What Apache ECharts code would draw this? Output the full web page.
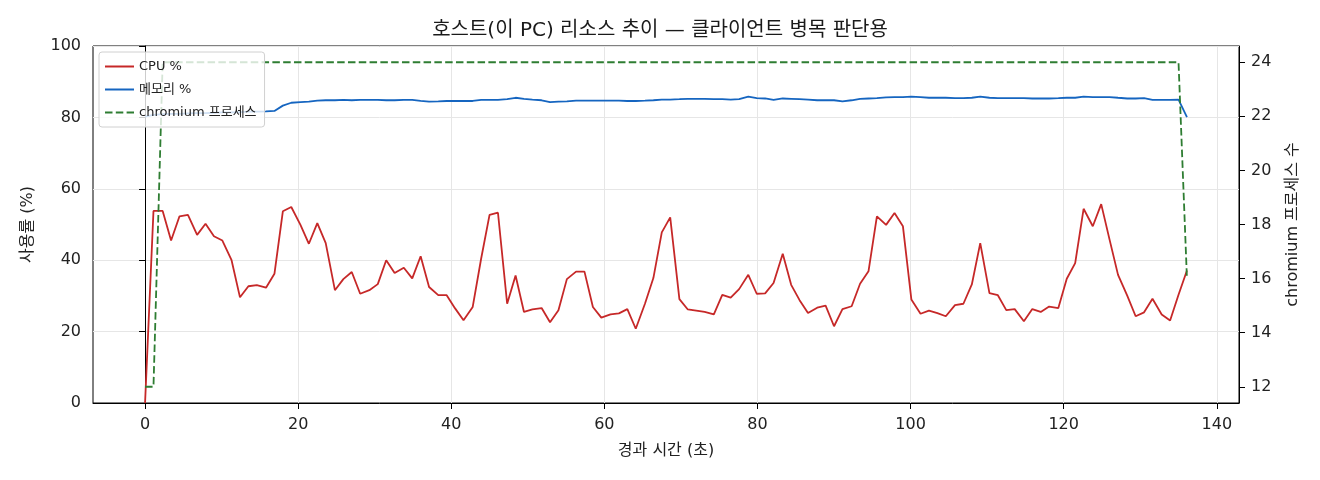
<!DOCTYPE html>
<html>
<head>
<meta charset="utf-8">
<script src="https://cdn.jsdelivr.net/npm/echarts@6/dist/echarts.min.js"></script>
<style>
  html, body { margin: 0; padding: 0; background: #fff; }
  #chart { width: 1320px; height: 480px; }
</style>
</head>
<body>
<div id="chart"></div>
<script>
// elapsed seconds, one sample roughly every 1.125 s
const times = [0, 1.1, 2.3, 3.4, 4.5, 5.6, 6.8, 7.9, 9.0, 10.1, 11.3, 12.4, 13.5, 14.6, 15.8, 16.9, 18.0, 19.1, 20.3, 21.4,
  22.5, 23.6, 24.8, 25.9, 27.0, 28.1, 29.3, 30.4, 31.5, 32.6, 33.8, 34.9, 36.0, 37.1, 38.3, 39.4, 40.5, 41.6, 42.8, 43.9,
  45.0, 46.1, 47.3, 48.4, 49.5, 50.6, 51.8, 52.9, 54.0, 55.1, 56.3, 57.4, 58.5, 59.6, 60.8, 61.9, 63.0, 64.1, 65.3, 66.4,
  67.5, 68.6, 69.8, 70.9, 72.0, 73.1, 74.3, 75.4, 76.5, 77.6, 78.8, 79.9, 81.0, 82.1, 83.3, 84.4, 85.5, 86.6, 87.8, 88.9,
  90.0, 91.1, 92.3, 93.4, 94.5, 95.6, 96.8, 97.9, 99.0, 100.1, 101.3, 102.4, 103.5, 104.6, 105.8, 106.9, 108.0, 109.1, 110.3, 111.4,
  112.5, 113.6, 114.8, 115.9, 117.0, 118.1, 119.3, 120.4, 121.5, 122.6, 123.8, 124.9, 126.0, 127.1, 128.3, 129.4, 130.5, 131.6, 132.8, 133.9,
  135.0, 136.1];

const cpuPct = [0, 53.8, 53.8, 45.5, 52.3, 52.7, 47.1, 50.2, 46.7, 45.5, 40.0, 29.6, 32.7, 33.0, 32.3, 36.2, 53.7, 54.9, 49.9, 44.6,
  50.4, 44.8, 31.6, 34.7, 36.7, 30.6, 31.6, 33.3, 40.0, 36.4, 37.9, 34.9, 41.1, 32.5, 30.2, 30.2, 26.5, 23.2, 26.9, 40.4,
  52.7, 53.3, 27.8, 35.7, 25.5, 26.2, 26.6, 22.6, 26.0, 34.7, 36.8, 36.8, 26.9, 23.9, 24.8, 25.1, 26.3, 20.8, 27.8, 35.0,
  47.8, 52.0, 29.1, 26.2, 25.9, 25.5, 24.8, 30.3, 29.5, 31.9, 35.9, 30.6, 30.7, 33.6, 41.8, 33.1, 28.8, 25.2, 26.7, 27.3,
  21.5, 26.3, 27.1, 33.4, 36.9, 52.3, 49.9, 53.2, 49.5, 29.0, 25.0, 25.9, 25.2, 24.3, 27.4, 27.8, 33.2, 44.8, 30.8, 30.2,
  26.0, 26.3, 22.9, 26.3, 25.5, 27.0, 26.6, 34.8, 39.2, 54.4, 49.5, 55.7, 45.7, 35.9, 30.1, 24.3, 25.4, 29.2, 24.8, 23.1,
  30.3, 37.1];

const memPct = [80.2, 80.7, 80.9, 81.0, 81.0, 81.1, 81.2, 81.2, 81.3, 81.4, 81.4, 81.5, 81.6, 81.6, 81.7, 81.8, 83.3, 84.1, 84.3, 84.4,
  84.7, 84.8, 84.8, 84.9, 84.8, 84.9, 84.9, 84.9, 84.8, 84.8, 84.9, 84.9, 84.6, 84.4, 84.5, 84.6, 84.6, 84.6, 84.6, 84.9,
  84.9, 84.9, 85.1, 85.5, 85.2, 85.0, 84.8, 84.3, 84.4, 84.5, 84.7, 84.7, 84.7, 84.7, 84.7, 84.7, 84.6, 84.6, 84.7, 84.8,
  85.0, 85.0, 85.1, 85.2, 85.2, 85.2, 85.1, 85.1, 85.0, 85.1, 85.8, 85.4, 85.3, 84.9, 85.3, 85.2, 85.1, 85.0, 84.8, 84.8,
  84.8, 84.5, 84.8, 85.2, 85.3, 85.4, 85.6, 85.7, 85.7, 85.8, 85.7, 85.5, 85.5, 85.5, 85.4, 85.4, 85.5, 85.8, 85.5, 85.4,
  85.4, 85.4, 85.4, 85.3, 85.3, 85.3, 85.4, 85.5, 85.5, 85.8, 85.7, 85.7, 85.7, 85.5, 85.3, 85.3, 85.4, 84.9, 84.9, 84.9,
  85.0, 80.1];

const procCount = [12, 12, 24, 24, 24, 24, 24, 24, 24, 24, 24, 24, 24, 24, 24, 24, 24, 24, 24, 24,
  24, 24, 24, 24, 24, 24, 24, 24, 24, 24, 24, 24, 24, 24, 24, 24, 24, 24, 24, 24,
  24, 24, 24, 24, 24, 24, 24, 24, 24, 24, 24, 24, 24, 24, 24, 24, 24, 24, 24, 24,
  24, 24, 24, 24, 24, 24, 24, 24, 24, 24, 24, 24, 24, 24, 24, 24, 24, 24, 24, 24,
  24, 24, 24, 24, 24, 24, 24, 24, 24, 24, 24, 24, 24, 24, 24, 24, 24, 24, 24, 24,
  24, 24, 24, 24, 24, 24, 24, 24, 24, 24, 24, 24, 24, 24, 24, 24, 24, 24, 24, 24,
  24, 16];

const xTicks = [0, 20, 40, 60, 80, 100, 120, 140];
const yLeftTicks = [0, 20, 40, 60, 80, 100];
const yRightTicks = [12, 14, 16, 18, 20, 22, 24];

const FONT = '"DejaVu Sans", "Noto Sans CJK KR", sans-serif';

const pairs = (vals) => times.map((t, i) => [t, vals[i]]);

const chart = echarts.init(document.getElementById('chart'));

const axisCommon = {
  axisLine: { show: true, lineStyle: { color: '#000', width: 1 } },
  axisTick: { show: true, length: 6, lineStyle: { color: '#000' } },
  axisLabel: { color: '#222', fontSize: 16, fontFamily: FONT },
  nameTextStyle: { color: '#222', fontSize: 16, fontFamily: FONT }
};

const option = {
  animation: false,
  backgroundColor: '#fff',
  title: {
    text: '호스트(이 PC) 리소스 추이 — 클라이언트 병목 판단용',
    left: 'center',
    top: 16,
    textStyle: { fontFamily: FONT, fontSize: 20, fontWeight: 'normal', color: '#1a1a1a' }
  },
  legend: {
    orient: 'vertical',
    left: 99,
    top: 52,
    padding: [8, 8, 8, 5],
    itemGap: 10,
    itemWidth: 29,
    itemHeight: 13,
    backgroundColor: 'rgba(255,255,255,0.8)',
    borderColor: '#d0d0d0',
    borderWidth: 1,
    borderRadius: 3,
    itemStyle: { opacity: 0 },
    textStyle: { fontFamily: FONT, fontSize: 13, color: '#222' },
    data: ['CPU %', '메모리 %', 'chromium 프로세스']
  },
  grid: {
    left: 93, right: 81, top: 46, bottom: 77,
    show: true, borderColor: '#000', borderWidth: 1
  },
  xAxis: {
    type: 'value',
    min: -6.8,
    max: 142.9,
    interval: 20,
    name: '경과 시간 (초)',
    nameLocation: 'middle',
    nameGap: 40,
    ...axisCommon,
    axisTick: { ...axisCommon.axisTick, customValues: xTicks },
    axisLabel: { ...axisCommon.axisLabel, customValues: xTicks, margin: 14 },
    splitLine: { show: true, lineStyle: { color: '#e6e6e6', width: 1 } }
  },
  yAxis: [{
    type: 'value',
    min: 0,
    max: 100,
    interval: 20,
    name: '사용률 (%)',
    nameLocation: 'middle',
    nameGap: 57,
    ...axisCommon,
    axisTick: { ...axisCommon.axisTick, customValues: yLeftTicks },
    axisLabel: { ...axisCommon.axisLabel, customValues: yLeftTicks, margin: 12 },
    splitLine: { show: true, lineStyle: { color: '#e6e6e6', width: 1 } }
  }, {
    type: 'value',
    min: 11.4,
    max: 24.6,
    position: 'right',
    name: 'chromium 프로세스 수',
    nameLocation: 'middle',
    nameGap: 46,
    nameRotate: 90,
    ...axisCommon,
    axisTick: { ...axisCommon.axisTick, customValues: yRightTicks },
    axisLabel: { ...axisCommon.axisLabel, customValues: yRightTicks, margin: 12 },
    splitLine: { show: false }
  }],
  series: [{
    name: 'CPU %',
    type: 'line',
    data: pairs(cpuPct),
    showSymbol: false,
    symbol: 'none',
    color: '#c62828',
    lineStyle: { width: 1.8, color: '#c62828' },
    z: 3
  }, {
    name: '메모리 %',
    type: 'line',
    data: pairs(memPct),
    showSymbol: false,
    symbol: 'none',
    color: '#1565c0',
    lineStyle: { width: 1.8, color: '#1565c0' },
    z: 3
  }, {
    name: 'chromium 프로세스',
    type: 'line',
    yAxisIndex: 1,
    data: pairs(procCount),
    showSymbol: false,
    symbol: 'none',
    color: '#2e7d32',
    lineStyle: { width: 1.8, color: '#2e7d32', type: [7.5, 3.3] },
    z: 3
  }]
};

chart.setOption(option);
</script>
</body>
</html>
